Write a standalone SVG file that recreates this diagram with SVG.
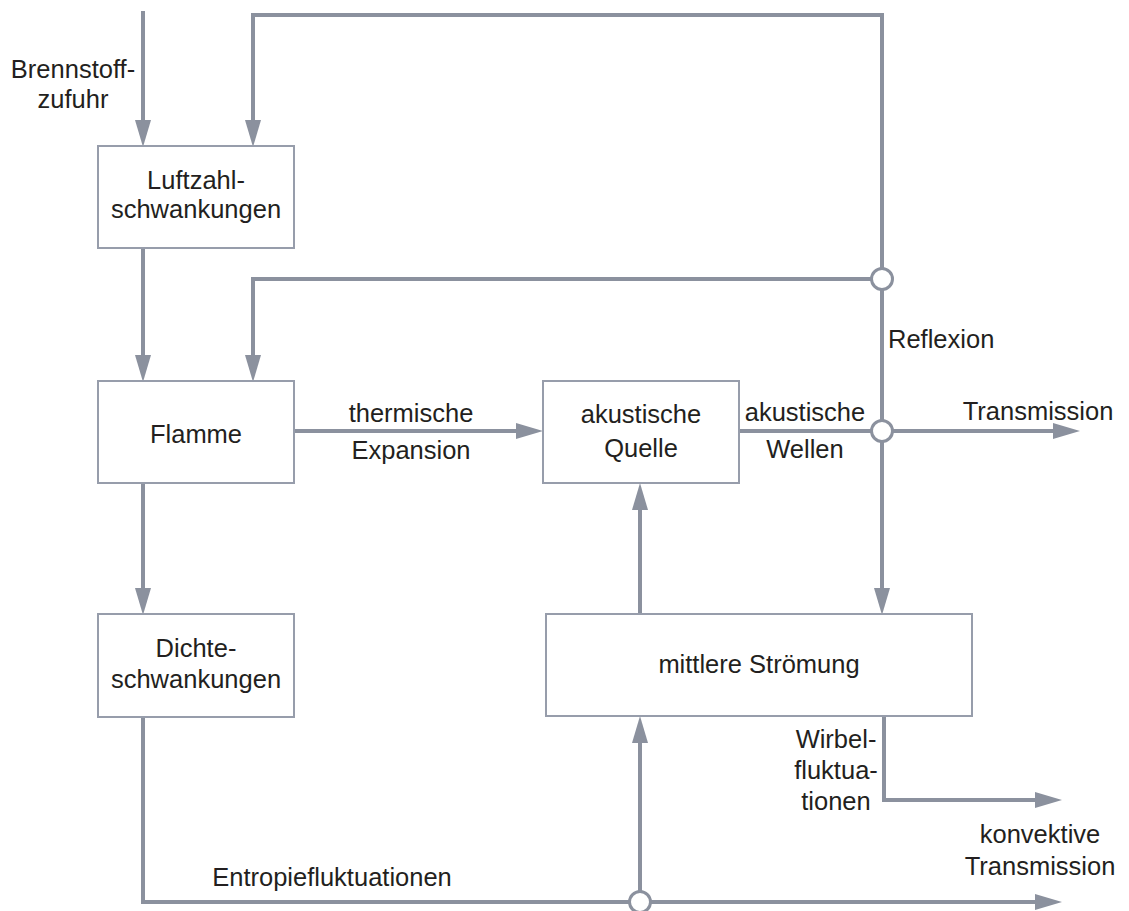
<svg xmlns="http://www.w3.org/2000/svg" width="1129" height="911" viewBox="0 0 1129 911">
<style>
.box{fill:#fff;stroke:#979dab;stroke-width:2}
.ln{fill:none;stroke:#8b919e;stroke-width:4;stroke-linejoin:miter}
.arr{marker-end:url(#ah)}
.jn{fill:#fff;stroke:#8b919e;stroke-width:3}
text{font-family:"Liberation Sans",Arial,sans-serif;font-size:25.5px;fill:#231f20}
.c{text-anchor:middle}
</style>
<defs>
<marker id="ah" markerUnits="userSpaceOnUse" markerWidth="28" markerHeight="16" refX="0" refY="8" orient="auto">
<path d="M0,0 L27,8 L0,16 z" fill="#8b919e"/>
</marker>
</defs>
<rect width="1129" height="911" fill="#fff"/>
<g id="connectors">
<path class="ln arr" d="M143,11 V120"/>
<path class="ln arr" d="M882,431 V15 H253 V120"/>
<path class="ln arr" d="M882,431 V588"/>
<path class="ln arr" d="M882,279 H253 V355"/>
<path class="ln arr" d="M143,248 V355"/>
<path class="ln arr" d="M294,431 H516"/>
<path class="ln arr" d="M739,431 H1053"/>
<path class="ln arr" d="M143,483 V588"/>
<path class="ln arr" d="M143,717 V902 H1035"/>
<path class="ln arr" d="M640,902 V743"/>
<path class="ln arr" d="M640,614 V510"/>
<path class="ln arr" d="M884,716 V800 H1035"/>
<circle class="jn" cx="882" cy="279" r="10.5"/>
<circle class="jn" cx="882" cy="431" r="10.5"/>
<circle class="jn" cx="640" cy="902" r="10.5"/>
<text class="c" x="73" y="78">Brennstoff-</text>
<text class="c" x="73" y="108">zufuhr</text>
<text class="c" x="411" y="422">thermische</text>
<text class="c" x="411" y="459">Expansion</text>
<text class="c" x="805" y="421">akustische</text>
<text class="c" x="805" y="458">Wellen</text>
<text x="888" y="348">Reflexion</text>
<text class="c" x="1038" y="420">Transmission</text>
<text class="c" x="836" y="748">Wirbel-</text>
<text class="c" x="836" y="779">fluktua-</text>
<text class="c" x="836" y="810">tionen</text>
<text class="c" x="1040" y="843">konvektive</text>
<text class="c" x="1040" y="875">Transmission</text>
<text class="c" x="332" y="886">Entropiefluktuationen</text>
</g>
<g id="luftzahl">
<rect class="box" x="98" y="146" width="196" height="102"/>
<text class="c" x="196" y="189">Luftzahl-</text>
<text class="c" x="196" y="218">schwankungen</text>
</g>
<g id="flamme">
<rect class="box" x="98" y="381" width="196" height="102"/>
<text class="c" x="196" y="443">Flamme</text>
</g>
<g id="quelle">
<rect class="box" x="543" y="381" width="196" height="102"/>
<text class="c" x="641" y="423">akustische</text>
<text class="c" x="641" y="457">Quelle</text>
</g>
<g id="dichte">
<rect class="box" x="98" y="614" width="196" height="103"/>
<text class="c" x="196" y="657">Dichte-</text>
<text class="c" x="196" y="688">schwankungen</text>
</g>
<g id="stroemung">
<rect class="box" x="546" y="614" width="426" height="102"/>
<text class="c" x="759" y="673">mittlere Strömung</text>
</g>
</svg>
